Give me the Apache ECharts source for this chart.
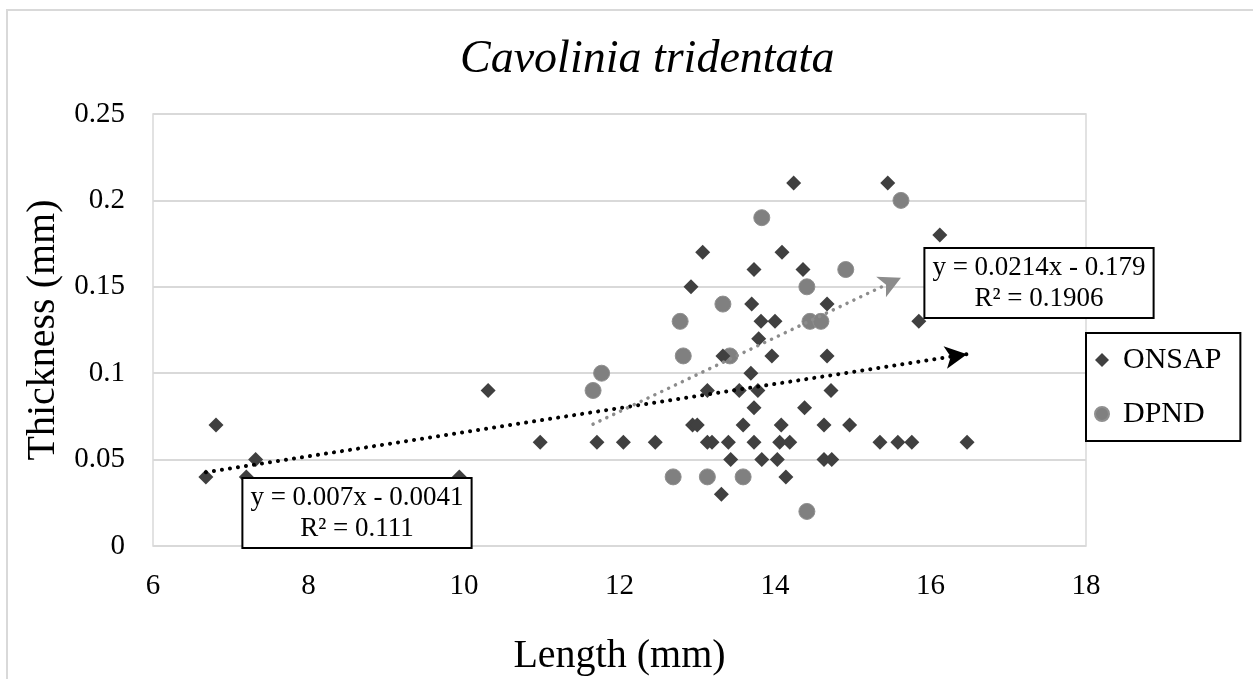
<!DOCTYPE html>
<html>
<head>
<meta charset="utf-8">
<script src="https://cdn.jsdelivr.net/npm/echarts@6/dist/echarts.min.js"></script>
<style>html,body{margin:0;padding:0;background:#fff;}#c{width:1253px;height:679px;}</style>
</head>
<body>
<div id="c"></div>
<script>
const titleText = 'Cavolinia tridentata';
const xName = 'Length (mm)';
const yName = 'Thickness (mm)';
const xTicks = [6, 8, 10, 12, 14, 16, 18];
const yTicks = [0, 0.05, 0.1, 0.15, 0.2, 0.25];

const onsapX = [6.68,6.81,7.20,7.32,9.94,10.31,10.98,11.71,12.05,12.46,12.92,12.94,13.00,13.07,13.13,13.13,13.19,13.31,13.33,13.40,13.43,13.54,13.59,13.69,13.70,13.73,13.73,13.73,13.78,13.79,13.82,13.83,13.96,14.00,14.03,14.06,14.08,14.09,14.14,14.19,14.24,14.36,14.38,14.63,14.63,14.67,14.67,14.72,14.73,14.96,15.35,15.45,15.58,15.76,15.85,16.12,16.47];
const onsapY = [0.04,0.07,0.04,0.05,0.04,0.09,0.06,0.06,0.06,0.06,0.15,0.07,0.07,0.17,0.09,0.06,0.06,0.03,0.11,0.06,0.05,0.09,0.07,0.10,0.14,0.16,0.08,0.06,0.09,0.12,0.13,0.05,0.11,0.13,0.05,0.06,0.07,0.17,0.04,0.06,0.21,0.16,0.08,0.07,0.05,0.14,0.11,0.09,0.05,0.07,0.06,0.21,0.06,0.06,0.13,0.18,0.06];

const dpndX = [11.66,11.77,12.69,12.78,12.82,13.13,13.33,13.42,13.59,13.83,14.41,14.41,14.45,14.59,14.91,15.62];
const dpndY = [0.09,0.10,0.04,0.13,0.11,0.04,0.14,0.11,0.04,0.19,0.15,0.02,0.13,0.13,0.16,0.20];

// trendline endpoints (consistent with the shown equations)
const onsapTrend = [[6.68, 0.0427], [16.47, 0.111]];
const dpndTrend = [[11.66, 0.0705], [15.62, 0.1553]];
const onsapEq = ['y = 0.007x - 0.0041', 'R² = 0.111'];
const dpndEq = ['y = 0.0214x - 0.179', 'R² = 0.1906'];

const serif = '"Liberation Serif", "Times New Roman", serif';
const zip = (a, b) => a.map((v, i) => [v, b[i]]);

const chart = echarts.init(document.getElementById('c'));
chart.setOption({
  animation: false,
  backgroundColor: '#fff',
  title: {
    text: titleText, left: 455, top: 32,
    textStyle: { fontFamily: serif, fontStyle: 'italic', fontWeight: 'normal', fontSize: 46, color: '#000' }
  },
  grid: { left: 153, top: 114, right: 167, bottom: 133, outerBoundsMode: 'none', containLabel: false,
    show: true, borderColor: '#d9d9d9', borderWidth: 1.5, backgroundColor: 'transparent' },
  legend: {
    orient: 'vertical', left: 1086, top: 333,
    padding: [12, 19, 12, 8], itemGap: 24, itemWidth: 14, itemHeight: 14,
    borderColor: '#000', borderWidth: 2, backgroundColor: '#fff',
    textStyle: { fontFamily: serif, fontSize: 30, color: '#000', padding: [0, 0, 0, 9] },
    data: [{ name: 'ONSAP', icon: 'diamond' }, { name: 'DPND', icon: 'circle' }]
  },
  xAxis: {
    type: 'value', min: xTicks[0], max: xTicks[xTicks.length - 1], interval: 2,
    name: xName, nameLocation: 'middle', nameGap: 90,
    nameTextStyle: { fontFamily: serif, fontSize: 40, color: '#000' },
    axisLine: { show: false }, axisTick: { show: false }, splitLine: { show: false },
    axisLabel: { fontFamily: serif, fontSize: 29, color: '#000', margin: 26 }
  },
  yAxis: {
    type: 'value', min: yTicks[0], max: yTicks[yTicks.length - 1], interval: 0.05,
    name: yName, nameLocation: 'middle', nameGap: 90,
    nameTextStyle: { fontFamily: serif, fontSize: 40, color: '#000' },
    axisLine: { show: false }, axisTick: { show: false },
    splitLine: { show: true, lineStyle: { color: '#d9d9d9', width: 2 } },
    axisLabel: { fontFamily: serif, fontSize: 29, color: '#000', margin: 28,
      formatter: v => String(+v.toFixed(2)) }
  },
  series: [
    {
      name: 'ONSAP', type: 'scatter', symbol: 'diamond', symbolSize: 15, z: 3,
      itemStyle: { color: '#404040', opacity: 1 },
      data: zip(onsapX, onsapY),
      markLine: {
        silent: true, symbol: ['none', 'arrow'], symbolSize: [17, 22], precision: 4,
        label: { show: false },
        lineStyle: { color: '#000', type: [0.1, 8], cap: 'round', width: 4 },
        data: [[{ coord: onsapTrend[0] }, { coord: onsapTrend[1] }]]
      }
    },
    {
      name: 'DPND', type: 'scatter', symbol: 'circle', symbolSize: 16, z: 2,
      itemStyle: { color: '#808080', borderColor: '#8f8f8f', borderWidth: 1, opacity: 1 },
      data: zip(dpndX, dpndY),
      markLine: {
        silent: true, symbol: ['none', 'arrow'], symbolSize: [17, 22], precision: 4,
        label: { show: false },
        lineStyle: { color: '#8c8c8c', type: [0.1, 7.5], cap: 'round', width: 3.5 },
        data: [[{ coord: dpndTrend[0] }, { coord: dpndTrend[1] }]]
      }
    }
  ],
  graphic: [
    { type: 'rect', z: -1, shape: { x: 7, y: 10, width: 1300, height: 720 }, style: { fill: '#fff', stroke: '#d9d9d9', lineWidth: 2 } },
    { type: 'text', z: 10, x: 357, y: 513,
      style: { text: onsapEq.join('\n'), font: '27px ' + serif, fill: '#000', align: 'center', verticalAlign: 'middle',
        lineHeight: 31, backgroundColor: '#fff', borderColor: '#000', borderWidth: 2, padding: [3, 7, 3, 7] } },
    { type: 'text', z: 10, x: 1039, y: 283,
      style: { text: dpndEq.join('\n'), font: '27px ' + serif, fill: '#000', align: 'center', verticalAlign: 'middle',
        lineHeight: 31, backgroundColor: '#fff', borderColor: '#000', borderWidth: 2, padding: [3, 7, 3, 7] } }
  ]
});
</script>
</body>
</html>
